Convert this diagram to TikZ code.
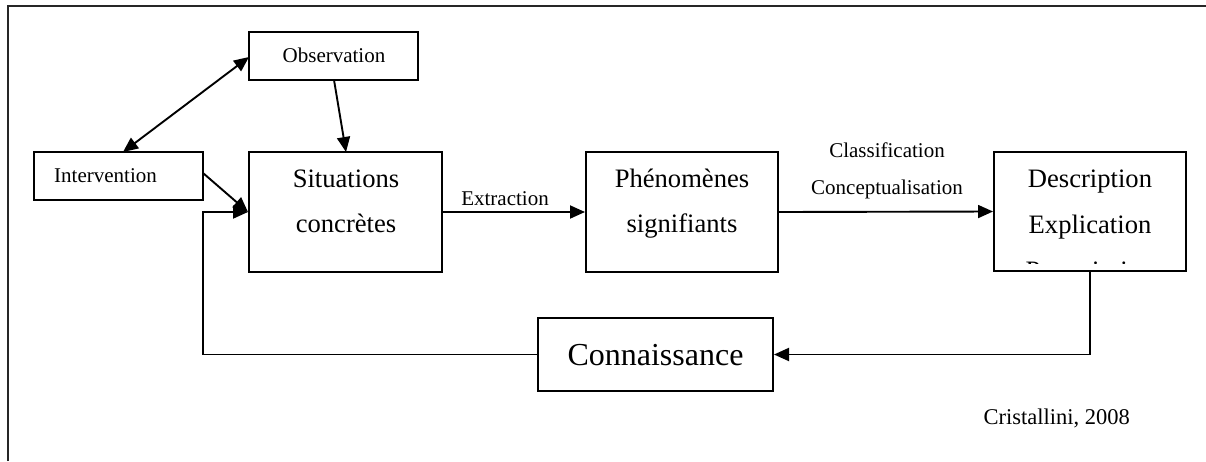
\documentclass[tikz,border=0pt]{standalone}
\usepackage{fontspec}
\setmainfont{Liberation Serif}
\usetikzlibrary{arrows.meta}
\begin{document}
\begin{tikzpicture}[x=1pt,y=-1pt,
  box/.style={draw,line width=2pt,inner sep=0pt},
  conn/.style={line width=1.9pt},
  tip/.style={-{Triangle[length=15pt,width=13pt]}},
  small/.style={font=\fontsize{21}{25}\selectfont,inner sep=0pt,anchor=base},
  big/.style={font=\fontsize{26.6}{30}\selectfont,inner sep=0pt,anchor=base},
  huge/.style={font=\fontsize{32}{36}\selectfont,inner sep=0pt,anchor=base}]
\useasboundingbox (0,0) rectangle (1206,461);
% outer frame (open to the right and bottom)
\draw[line width=2pt,black!85] (8,461) -- (8,6) -- (1206,6);

% boxes
\node[box,minimum width=169pt,minimum height=48pt]  (obs)  at (333.5,56) {};
\node[box,minimum width=169pt,minimum height=48pt]  (int)  at (118.5,176) {};
\node[box,minimum width=193pt,minimum height=120pt] (sit)  at (345.5,212) {};
\node[box,minimum width=192pt,minimum height=120pt] (phen) at (682,212) {};
\node[box,minimum width=192pt,minimum height=119pt] (desc) at (1090,211.5) {};
\node[box,minimum width=235pt,minimum height=73pt]  (conn) at (655.5,354.5) {};

% texts
\node[small] (tobs) at (334,62) {Observation};
\node[small,anchor=base west] (tint) at (54,182) {Intervention};
\node[big] (tsit1) at (346,187) {Situations};
\node[big] (tsit2) at (346,232) {concrètes};
\node[big] (tphen1) at (682,187) {Phénomènes};
\node[big] (tphen2) at (682,232) {signifiants};
\node[big] (tdesc1) at (1090,187) {Description};
\node[big] (tdesc2) at (1090,233) {Explication};
\begin{scope}
  \clip (996,254) rectangle (1184,263);
  \node[big] (tdesc3) at (1090,279) {Prescription};
\end{scope}
\node[huge] (tconn) at (655.5,365) {Connaissance};
\node[small] (text) at (505,205) {Extraction};
\node[small] (tcla) at (887,157) {Classification};
\node[small] (tcon) at (887,194) {Conceptualisation};
\node[font=\fontsize{22.5}{27}\selectfont,inner sep=0pt,anchor=base east] (tcri) at (1130,424) {Cristallini, 2008};

% connectors
\coordinate (io1) at (123,152);
\coordinate (io2) at (249,57);
\draw[conn,{Triangle[length=15pt,width=13pt]}-{Triangle[length=15pt,width=13pt]}] (io1) -- (io2);
\coordinate (os1) at (334,80);
\coordinate (os2) at (346,152);
\draw[conn,tip] (os1) -- (os2);
\coordinate (is1) at (203,173);
\draw[conn,tip] (is1) -- (sit.west);
\draw[conn,tip] (sit.east) -- (phen.west);
\draw[conn,tip] (phen.east) -- (desc.west);
\coordinate (dc) at (1090,354.5);
\draw[conn,tip] (desc.south) -- (dc) -- (conn.east);
\coordinate (cs1) at (203,354.5);
\coordinate (cs2) at (203,212);
\draw[conn,tip] (conn.west) -- (cs1) -- (cs2) -- (sit.west);
\end{tikzpicture}
\end{document}
